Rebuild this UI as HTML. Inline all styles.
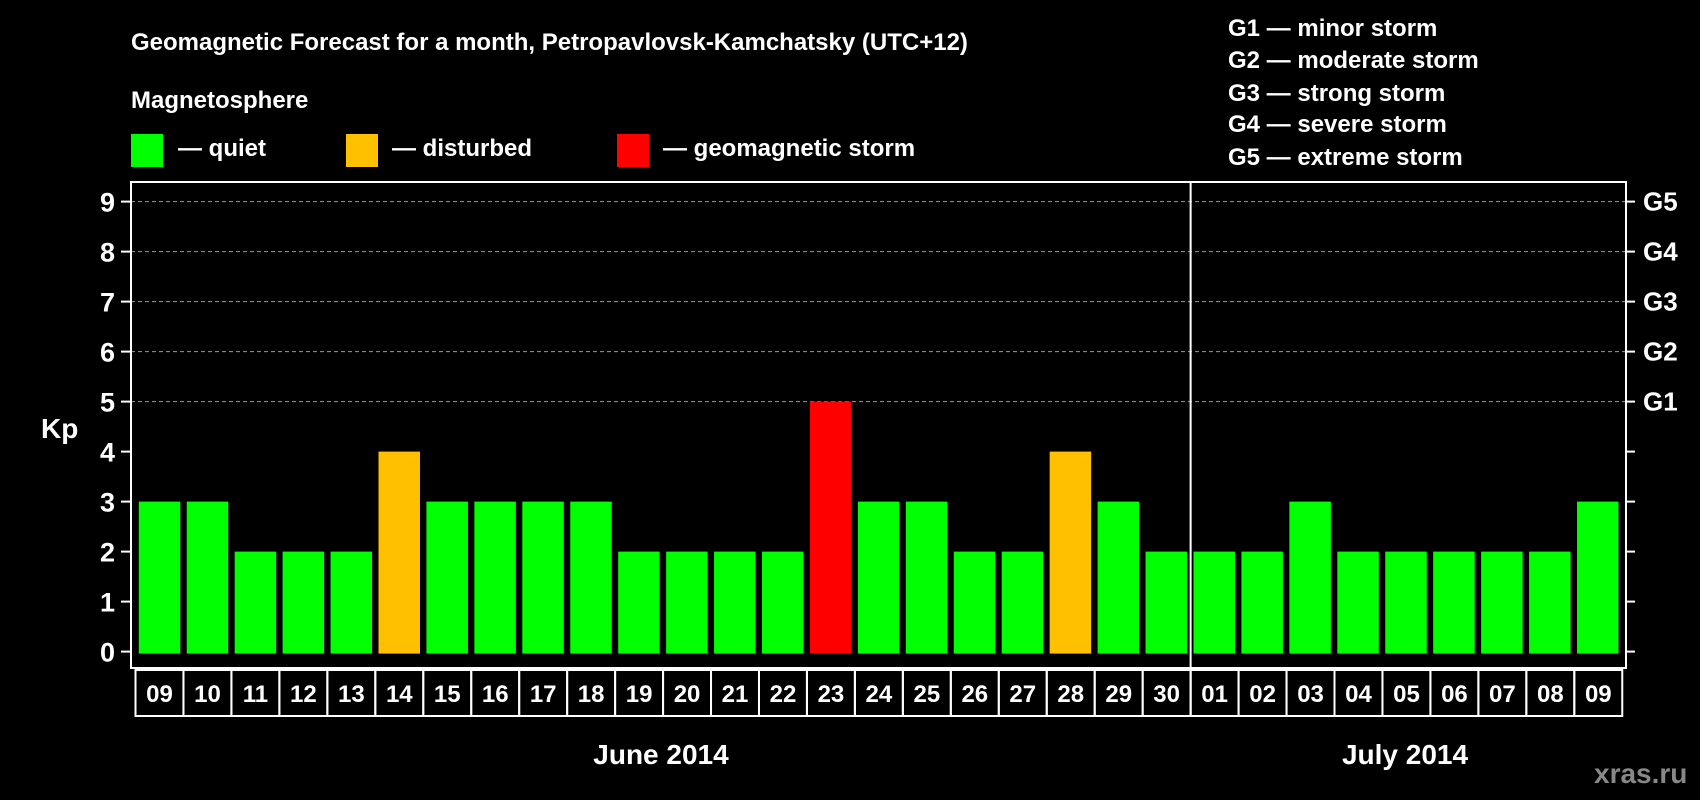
<!DOCTYPE html>
<html><head><meta charset="utf-8"><style>
html,body{margin:0;padding:0;background:#000;width:1700px;height:800px;overflow:hidden}
svg{display:block;font-family:"Liberation Sans",Arial,sans-serif;font-weight:bold}
</style></head><body>
<svg id="c" width="1700" height="800" xmlns="http://www.w3.org/2000/svg">
<text x="131" y="50" fill="#fff" font-size="24">Geomagnetic Forecast for a month, Petropavlovsk-Kamchatsky (UTC+12)</text>
<text x="131" y="108" fill="#fff" font-size="24">Magnetosphere</text>
<g><rect x="131" y="134" width="32" height="33" fill="#00ff00"/><text x="178" y="156" fill="#fff" font-size="24">— quiet</text></g>
<g><rect x="346" y="134" width="32" height="33" fill="#ffc000"/><text x="392" y="156" fill="#fff" font-size="24">— disturbed</text></g>
<g><rect x="617" y="134" width="32" height="33" fill="#ff0000"/><text x="663" y="156" fill="#fff" font-size="24">— geomagnetic storm</text></g>
<g fill="#fff" font-size="24">
<text x="1228" y="36">G1 — minor storm</text>
<text x="1228" y="68">G2 — moderate storm</text>
<text x="1228" y="101">G3 — strong storm</text>
<text x="1228" y="132">G4 — severe storm</text>
<text x="1228" y="165">G5 — extreme storm</text>
</g>
<text x="41" y="438" fill="#fff" font-size="28">Kp</text>
<text x="1594" y="783" fill="#888" font-size="28">xras.ru</text>
<g id="grid"></g><g id="bars"></g><g id="axes"></g>
</svg>
<script>
const days=["09","10","11","12","13","14","15","16","17","18","19","20","21","22","23","24","25","26","27","28","29","30","01","02","03","04","05","06","07","08","09"];
const kp=[3,3,2,2,2,4,3,3,3,3,2,2,2,2,5,3,3,2,2,4,3,2,2,2,3,2,2,2,2,2,3];
const yTicks=[0,1,2,3,4,5,6,7,8,9];
const gLabels=["G1","G2","G3","G4","G5"];
const gLevels=[5,6,7,8,9];
const months=["June 2014","July 2014"];
const monthStart=[0,22];
const NS="http://www.w3.org/2000/svg";
const L=131,R=1626,T=182,B=668,Y0=651.6,U=50.0,P=47.94,BW=41.5,BX=138.8;
const y=v=>Y0-v*U;
function mk(t,a,p){const e=document.createElementNS(NS,t);for(const k in a)e.setAttribute(k,a[k]);p.appendChild(e);return e;}
const grid=document.getElementById('grid'),bars=document.getElementById('bars'),axes=document.getElementById('axes');
gLevels.forEach((v,i)=>{
 const l=mk('line',{x1:L,x2:R,y1:y(v),y2:y(v),stroke:'#999','stroke-dasharray':'4,3','stroke-width':1},grid);
 
 
 const t=mk('text',{x:1643,y:y(v)+9,fill:'#fff','font-size':26},axes);t.textContent=gLabels[i];
 
 
});
kp.forEach((v,i)=>{
 const c=v>=5?'#ff0000':(v>=4?'#ffc000':'#00ff00');
 const r=mk('rect',{x:BX+i*P,y:y(v),width:BW,height:Y0-y(v)+2,fill:c},bars);
 
 
 const bx=135.5+i*47.96;
 const b=mk('rect',{x:bx,y:670,width:47.96,height:46,fill:'none',stroke:'#fff','stroke-width':2},axes);
 
 
 const t=mk('text',{x:bx+24,y:702,fill:'#fff','font-size':24,'text-anchor':'middle'},axes);t.textContent=days[i];
 
 
});
const f=mk('rect',{x:L,y:T,width:R-L,height:B-T,fill:'none',stroke:'#fff','stroke-width':2},axes);


const sx=135.5+monthStart[1]*47.96;
const s=mk('line',{x1:sx,x2:sx,y1:T,y2:716,stroke:'#fff','stroke-width':2},axes);


yTicks.forEach(v=>{
 const a=mk('line',{x1:121,x2:L,y1:y(v),y2:y(v),stroke:'#fff','stroke-width':2},axes);
 
 
 const b=mk('line',{x1:R,x2:1635,y1:y(v),y2:y(v),stroke:'#fff','stroke-width':2},axes);
 
 
 const t=mk('text',{x:115,y:y(v)+10,fill:'#fff','font-size':27,'text-anchor':'end'},axes);t.textContent=v;
 
 
});
const mx=[661,1405];
months.forEach((m,i)=>{
 const t=mk('text',{x:mx[i],y:764,fill:'#fff','font-size':28,'text-anchor':'middle'},axes);t.textContent=m;
 
 
});
</script>
</body></html>
